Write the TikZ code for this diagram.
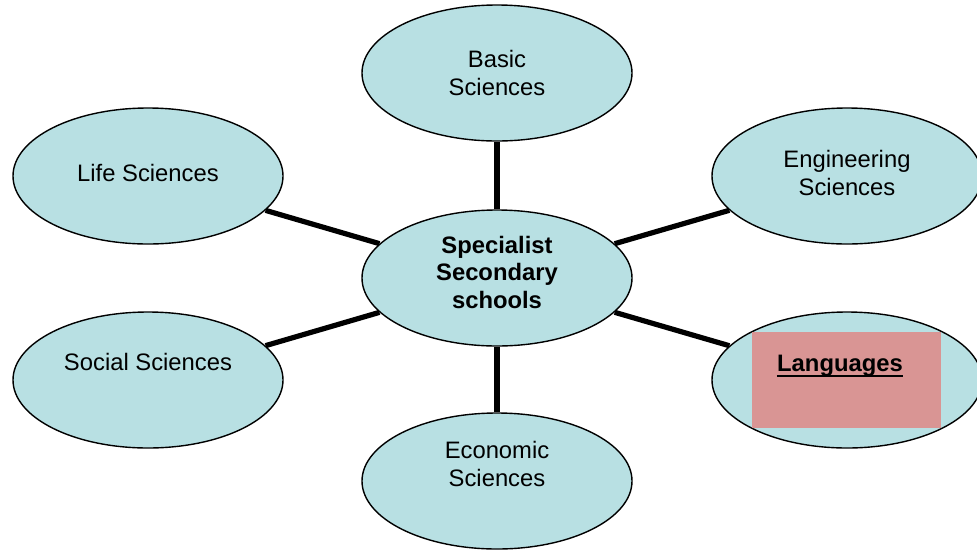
\documentclass[tikz,border=0pt]{standalone}
\usepackage{fontspec}
\setmainfont{Liberation Sans}
\usetikzlibrary{shapes.geometric}
\definecolor{ellfill}{RGB}{184,224,227}
\definecolor{langfill}{RGB}{217,149,148}
\tikzset{
  ell/.style={ellipse, draw=black, fill=ellfill, line width=1.4pt, minimum width=270pt, minimum height=136pt, inner sep=0pt},
  conn/.style={draw=black, line width=5.2pt},
  lbl/.style={anchor=base, align=center, inner sep=0pt, font=\fontsize{23.8}{27.5}\selectfont},
  blbl/.style={lbl, font=\fontsize{23.8}{27.5}\selectfont\bfseries},
  hl/.style={rectangle, fill=langfill, draw=none, minimum width=189pt, minimum height=96pt, inner sep=0pt}
}
\begin{document}
\begin{tikzpicture}[x=1pt, y=-1pt]
\useasboundingbox (0,0) rectangle (977,550);
% ellipses
\node[ell] (ctr) at (497,278) {};
\node[ell] (basic) at (497,73) {};
\node[ell] (life) at (148,176) {};
\node[ell] (eng) at (847,176) {};
\node[ell] (soc) at (148,380) {};
\node[ell] (eco) at (497,481) {};
\node[ell] (lang) at (847,380) {};
% connectors
\draw[conn] (ctr) -- (basic);
\draw[conn] (ctr) -- (life);
\draw[conn] (ctr) -- (eng);
\draw[conn] (ctr) -- (soc);
\draw[conn] (ctr) -- (eco);
\draw[conn] (ctr) -- (lang);
% highlight box
\node[hl] (langbox) at (846.5,380) {};
% labels (base = baseline of last line)
\node[blbl] (ctrtxt) at (497,308) {Specialist\\Secondary\\schools};
\node[lbl] (basictxt) at (497,95) {Basic\\Sciences};
\node[lbl] (lifetxt) at (148,181) {Life Sciences};
\node[lbl] (engtxt) at (847,195) {Engineering\\Sciences};
\node[lbl] (soctxt) at (148,370) {Social Sciences};
\node[lbl] (ecotxt) at (497,486) {Economic\\Sciences};
\node[blbl] (langtxt) at (840,371) {Languages};
\draw[line width=2pt] ([yshift=-4.5pt]langtxt.base west) -- ([yshift=-4.5pt]langtxt.base east);
\end{tikzpicture}
\end{document}
